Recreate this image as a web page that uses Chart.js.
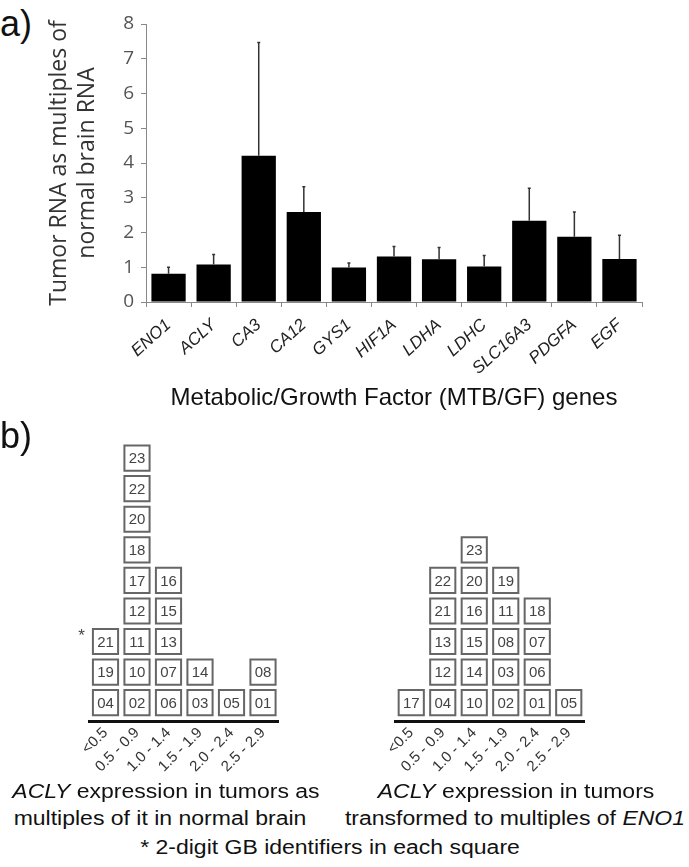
<!DOCTYPE html>
<html>
<head>
<meta charset="utf-8">
<script src="https://cdn.jsdelivr.net/npm/chart.js@4.4.0/dist/chart.umd.min.js"></script>
<style>
  body { margin: 0; background: #fff; }
  #page { position: relative; width: 689px; height: 867px; overflow: hidden; font-family: "Liberation Sans", Arial, sans-serif; color: #111; }
  canvas { position: absolute; }
  .txt { position: absolute; white-space: nowrap; line-height: 1; }
  .cap { position: absolute; white-space: nowrap; line-height: 1; font-size: 20px; transform: translateX(-50%) scaleX(1.15); }
</style>
</head>
<body>
<div id="page">
  <div class="txt" style="left:0;top:6px;font-size:36px;">a)</div>
  <canvas id="barChart" width="689" height="420" style="left:0;top:0;"></canvas>
  <div class="txt" style="left:0;top:418px;font-size:36px;">b)</div>
  <canvas id="leftBins" width="345" height="360" style="left:0;top:420px;"></canvas>
  <canvas id="rightBins" width="344" height="360" style="left:345px;top:420px;"></canvas>
  <div class="cap" style="left:166px;top:781px;"><i>ACLY</i> expression in tumors as</div>
  <div class="cap" style="left:160px;top:808px;">multiples of it in normal brain</div>
  <div class="cap" style="left:516px;top:781px;"><i>ACLY</i> expression in tumors</div>
  <div class="cap" style="left:515px;top:808px;">transformed to multiples of <i>ENO1</i></div>
  <div class="cap" style="left:330px;top:837px;">* 2-digit GB identifiers in each square</div>
</div>
<script>
// part a) values
var genes = ['ENO1', 'ACLY', 'CA3', 'CA12', 'GYS1', 'HIF1A', 'LDHA', 'LDHC', 'SLC16A3', 'PDGFA', 'EGF'];
var meanRatio = [0.81, 1.08, 4.21, 2.59, 0.99, 1.31, 1.23, 1.02, 2.34, 1.88, 1.24];
var errUpper = [0.19, 0.29, 3.26, 0.73, 0.13, 0.29, 0.34, 0.32, 0.93, 0.71, 0.68];
var yMin = 0, yMax = 8, yStep = 1;

// part b) tumor ids per bin, listed bottom to top
var binLabels = ['<0.5', '0.5 - 0.9', '1.0 - 1.4', '1.5 - 1.9', '2.0 - 2.4', '2.5 - 2.9'];
var brainIds = [
  ['04', '19', '21'],
  ['02', '10', '11', '12', '17', '18', '20', '22', '23'],
  ['06', '07', '13', '15', '16'],
  ['03', '14'],
  ['05'],
  ['01', '08']
];
var eno1Ids = [
  ['17'],
  ['04', '12', '13', '21', '22'],
  ['10', '14', '15', '16', '20', '23'],
  ['02', '03', '08', '11', '19'],
  ['01', '06', '07', '18'],
  ['05']
];
var starredIds = ['21'];

var errorBars = {
  id: 'errorBars',
  afterDatasetsDraw: function(chart) {
    var ctx = chart.ctx;
    var y = chart.scales.y;
    var meta = chart.getDatasetMeta(0);
    ctx.save();
    ctx.strokeStyle = '#333';
    ctx.lineWidth = 1.5;
    meta.data.forEach(function(bar, i) {
      var top = y.getPixelForValue(meanRatio[i] + errUpper[i]);
      var base = y.getPixelForValue(meanRatio[i]);
      ctx.beginPath();
      ctx.moveTo(bar.x, base);
      ctx.lineTo(bar.x, top);
      ctx.moveTo(bar.x - 1.5, top);
      ctx.lineTo(bar.x + 1.5, top);
      ctx.stroke();
    });
    ctx.restore();
  }
};

new Chart(document.getElementById('barChart'), {
  type: 'bar',
  data: {
    labels: genes,
    datasets: [{
      data: meanRatio,
      backgroundColor: '#000',
      borderWidth: 0,
      barPercentage: 0.76,
      categoryPercentage: 1
    }]
  },
  options: {
    responsive: false,
    animation: false,
    events: [],
    layout: { padding: { left: 45, top: 24, right: 47, bottom: 0 } },
    plugins: { legend: { display: false }, tooltip: { enabled: false } },
    scales: {
      x: {
        afterFit: function(s) { s.height = 118; },
        grid: { drawOnChartArea: false, tickLength: 5, color: '#888' },
        border: { color: '#888' },
        ticks: {
          autoSkip: false, minRotation: 42, maxRotation: 42, padding: 8, color: '#222',
          font: { family: '"Liberation Sans", Arial, sans-serif', size: 17, style: 'italic' }
        },
        title: {
          display: true, text: 'Metabolic/Growth Factor (MTB/GF) genes', color: '#111',
          font: { family: '"Liberation Sans", Arial, sans-serif', size: 24 },
          padding: { top: 0, bottom: 7 }
        }
      },
      y: {
        min: yMin, max: yMax,
        afterFit: function(s) { s.width = 101; },
        grid: { drawOnChartArea: false, tickLength: 5, color: '#888' },
        border: { color: '#888' },
        ticks: { stepSize: yStep, padding: 7, color: '#555', font: { family: '"Open Sans", sans-serif', size: 19 } },
        title: {
          display: true, text: ['Tumor RNA as multiples of', 'normal brain RNA'], color: '#333',
          font: { family: '"Open Sans", sans-serif', size: 23, lineHeight: 1.22 },
          padding: 0
        }
      }
    }
  },
  plugins: [errorBars]
});

var boxLabels = {
  id: 'boxLabels',
  afterDatasetsDraw: function(chart) {
    var ctx = chart.ctx;
    var ds = chart.data.datasets[0];
    var meta = chart.getDatasetMeta(0);
    ctx.save();
    ctx.textAlign = 'center';
    ctx.textBaseline = 'middle';
    ctx.fillStyle = '#444';
    meta.data.forEach(function(pt, i) {
      var d = ds.data[i];
      ctx.font = '15px "Liberation Sans", Arial, sans-serif';
      ctx.fillText(d.id, pt.x, pt.y + 1);
      if (d.star) {
        ctx.font = '17px "Liberation Sans", Arial, sans-serif';
        ctx.fillText('*', pt.x - 24, pt.y - 5);
      }
    });
    ctx.restore();
  }
};

function binPoints(ids, stars) {
  var pts = [];
  ids.forEach(function(col, c) {
    col.forEach(function(id, r) {
      pts.push({ x: binLabels[c], y: r, id: id, star: stars.indexOf(id) >= 0 });
    });
  });
  return pts;
}

function binChart(canvasId, ids, stars, padLeft, padRight) {
  return new Chart(document.getElementById(canvasId), {
    type: 'scatter',
    data: {
      datasets: [{
        data: binPoints(ids, stars),
        pointStyle: 'rect',
        pointRadius: 17.8,
        borderWidth: 2,
        borderColor: '#666',
        backgroundColor: '#fff',
        clip: false
      }]
    },
    options: {
      responsive: false,
      animation: false,
      events: [],
      layout: { padding: { left: padLeft, right: padRight, top: 16.7, bottom: 0 } },
      plugins: { legend: { display: false }, tooltip: { enabled: false } },
      scales: {
        x: {
          type: 'category',
          labels: binLabels,
          offset: true,
          afterFit: function(s) { s.height = 59; },
          grid: { display: false, drawTicks: false },
          border: { color: '#111', width: 3 },
          ticks: {
            autoSkip: false, minRotation: 45, maxRotation: 45, padding: 3, color: '#333',
            font: { family: '"Liberation Sans", Arial, sans-serif', size: 15 }
          }
        },
        y: { display: false, min: -0.6, max: 8.6 }
      }
    },
    plugins: [boxLabels]
  });
}

binChart('leftBins', brainIds, starredIds, 89.75, 66.25);
binChart('rightBins', eno1Ids, [], 50.5, 104.5);
</script>
</body>
</html>
